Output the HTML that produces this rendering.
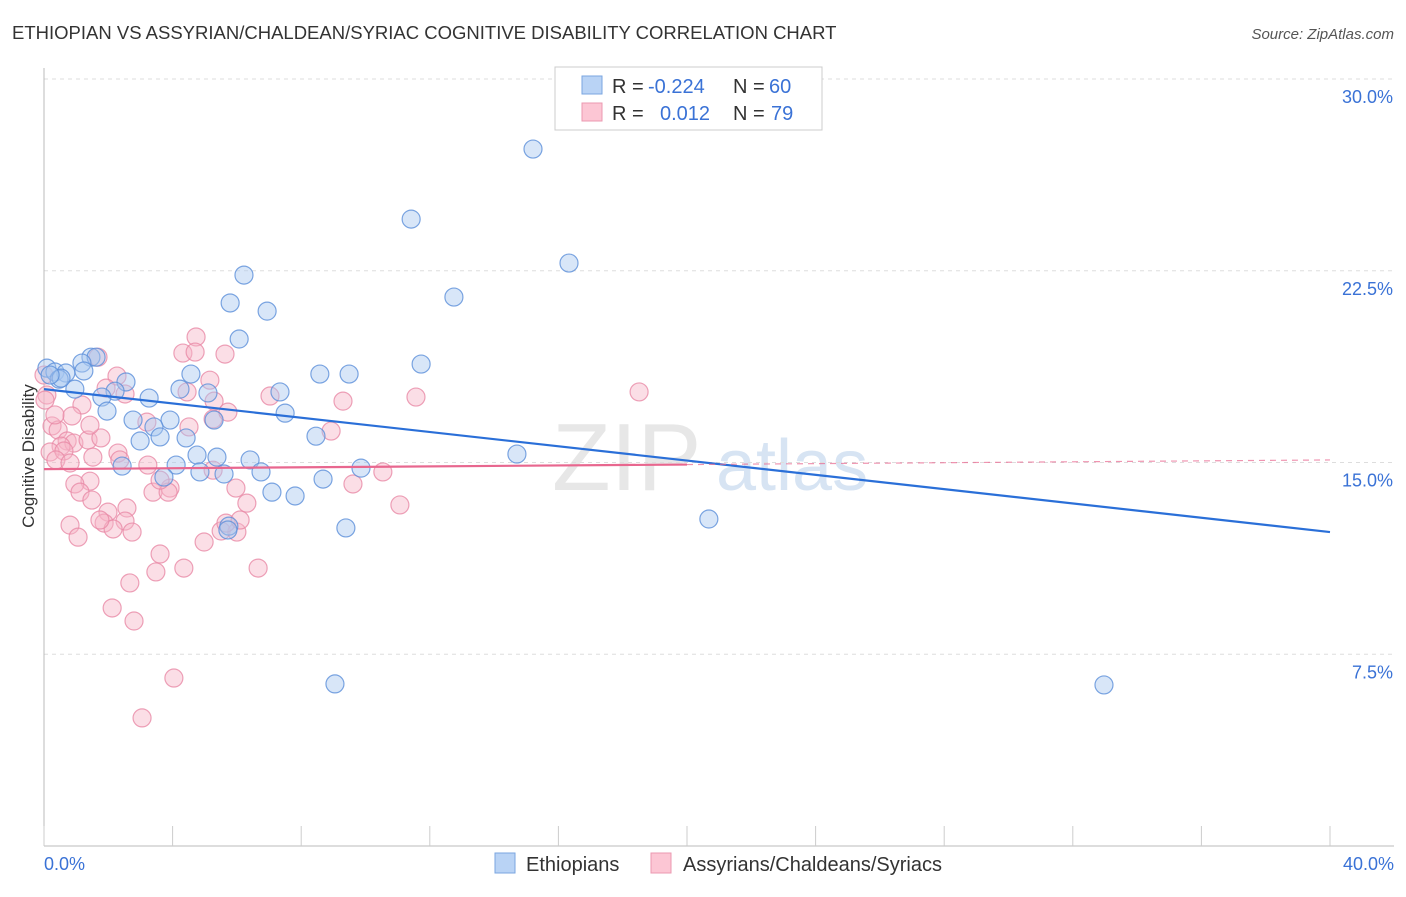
<!DOCTYPE html>
<html><head><meta charset="utf-8">
<style>
body{margin:0;background:#fff;font-family:"Liberation Sans",sans-serif;}
svg text{font-family:"Liberation Sans",sans-serif;}
</style></head>
<body>
<svg id="chart" width="1406" height="892" viewBox="0 0 1406 892" xmlns="http://www.w3.org/2000/svg">
<text x="12" y="39" font-size="18.5" fill="#333">ETHIOPIAN VS ASSYRIAN/CHALDEAN/SYRIAC COGNITIVE DISABILITY CORRELATION CHART</text>
<text x="1394" y="39" font-size="15" fill="#555" font-style="italic" text-anchor="end">Source: ZipAtlas.com</text>
<g>
<text x="552" y="490" font-size="96" fill="#ddd" font-family="Liberation Serif" opacity="0.7">ZIP</text>
<text x="716" y="490" font-size="72" fill="#c7d9ee" opacity="0.7">atlas</text>
</g>
<g id="grid"></g>
<g id="axes"></g>
<g id="marks"></g>
<text transform="translate(34,456) rotate(-90)" font-size="17" fill="#333" text-anchor="middle">Cognitive Disability</text>
<g>
<rect x="555" y="67" width="267" height="63" fill="#fff" stroke="#ccc"/>
<rect x="582" y="76" width="20" height="18" fill="#b9d3f5" stroke="#7aa6e0"/>
<text x="612" y="93" font-size="20" fill="#333">R =</text>
<text x="648" y="93" font-size="20" fill="#3a72d6">-0.224</text>
<text x="733" y="93" font-size="20" fill="#333">N =</text>
<text x="769" y="93" font-size="20" fill="#3a72d6">60</text>
<rect x="582" y="103" width="20" height="18" fill="#fcc6d4" stroke="#eb98b0"/>
<text x="612" y="120" font-size="20" fill="#333">R =</text>
<text x="660" y="120" font-size="20" fill="#3a72d6">0.012</text>
<text x="733" y="120" font-size="20" fill="#333">N =</text>
<text x="771" y="120" font-size="20" fill="#3a72d6">79</text>
</g>
<g>
<rect x="495" y="853" width="20" height="20" fill="#b9d3f5" stroke="#7aa6e0"/>
<text x="526" y="871" font-size="20" fill="#333">Ethiopians</text>
<rect x="651" y="853" width="20" height="20" fill="#fcc6d4" stroke="#eb98b0"/>
<text x="683" y="871" font-size="20" fill="#333">Assyrians/Chaldeans/Syriacs</text>
</g>
</svg>
<script>
const yTicks=[7.5,15,22.5,30];
const yTickLabels=["7.5%","15.0%","22.5%","30.0%"];
const xTicks=[0,4,8,12,16,20,24,28,32,36,40];
const xTickLabels=["0.0%","40.0%"];
const ethX=[15.21,11.42,16.33,6.22,12.75,5.79,6.94,6.07,1.46,1.62,1.18,11.73,0.09,0.34,1.24,0.68,0.47,4.57,8.58,9.49,2.55,4.23,0.96,2.21,5.10,7.34,3.27,1.80,1.96,7.50,2.77,3.92,5.29,3.42,2.99,3.61,4.42,8.46,14.71,4.76,5.38,6.41,4.11,2.43,4.85,5.60,6.75,9.86,8.68,3.73,7.09,7.81,20.68,9.39,5.75,9.05,32.97,0.53,0.19,5.72];
const ethY=[27.26,24.52,22.80,22.33,21.47,21.24,20.92,19.83,19.12,19.12,18.89,18.85,18.69,18.54,18.58,18.50,18.26,18.46,18.46,18.46,18.15,17.87,17.87,17.79,17.72,17.76,17.52,17.56,17.01,16.93,16.66,16.66,16.66,16.39,15.84,16.00,15.96,16.03,15.33,15.29,15.21,15.10,14.90,14.86,14.63,14.55,14.63,14.78,14.35,14.43,13.84,13.69,12.79,12.44,12.51,6.34,6.30,18.30,18.42,12.36];
const asyX=[4.73,4.32,5.63,1.68,2.27,1.93,2.52,5.29,4.45,7.03,9.30,11.57,18.51,0.09,1.18,3.20,5.26,4.51,8.93,0.25,0.44,0.72,0.93,1.37,1.77,0.53,0.19,0.62,2.30,1.52,0.37,0.81,3.23,5.26,10.54,1.43,0.96,1.12,1.49,3.92,3.39,5.97,9.61,6.31,11.07,1.99,2.58,0.81,1.87,2.52,1.06,2.15,2.74,4.98,5.51,6.00,5.66,3.61,2.67,4.35,3.48,6.66,2.12,2.80,4.04,3.05,0.0,0.03,0.87,1.43,2.36,3.86,4.70,5.16,5.72,3.61,1.74,0.34,6.10];
const asyY=[19.91,19.28,19.24,19.12,18.38,17.91,17.68,17.40,17.76,17.60,17.40,17.56,17.76,17.64,17.25,16.58,16.70,16.39,16.23,16.43,16.27,15.84,15.76,15.88,15.96,15.64,15.41,15.45,15.37,15.21,15.10,14.98,14.90,14.70,14.63,14.27,14.16,13.84,13.53,14.00,13.84,14.00,14.16,13.41,13.34,13.06,13.22,12.55,12.63,12.71,12.08,12.40,12.28,11.89,12.32,12.28,12.63,11.42,10.29,10.87,10.72,10.87,9.31,8.80,6.57,5.01,18.42,17.44,16.82,16.46,15.10,13.84,19.32,18.22,16.97,14.31,12.75,16.86,12.75];
const ethTrendX=[0,40];
const ethTrendY=[17.87,12.28];
const asyTrendX=[0,20,40];
const asyTrendY=[14.74,14.92,15.10];
const NS="http://www.w3.org/2000/svg";
const X0=44,X1=1330,Y0=846,YT=79;
function sx(v){return X0+(v/40)*(X1-X0);}
function sy(v){return Y0-(v/30)*(Y0-YT);}
function mk(tag,attrs,parent){const e=document.createElementNS(NS,tag);for(const k in attrs)e.setAttribute(k,attrs[k]);parent.appendChild(e);return e;}
const grid=document.getElementById('grid'),axes=document.getElementById('axes'),marks=document.getElementById('marks');
yTicks.forEach((t,i)=>{
 const l=mk('line',{x1:X0,x2:1394,y1:sy(t),y2:sy(t),stroke:'#ddd','stroke-dasharray':'4,4'},grid);
 
 
 const tx=mk('text',{x:1393,y:sy(t)+24,'font-size':18,fill:'#3a72d6','text-anchor':'end'},axes);
 tx.textContent=yTickLabels[i];
 
 
});
const ax=mk('line',{x1:X0,x2:X0,y1:68,y2:Y0,stroke:'#bbb'},axes);


const bx=mk('line',{x1:X0,x2:1394,y1:Y0,y2:Y0,stroke:'#bbb'},axes);


xTicks.forEach(t=>{
 const l=mk('line',{x1:sx(t),x2:sx(t),y1:826,y2:Y0,stroke:'#ccc'},axes);
 
 
});
const xl0=mk('text',{x:44,y:870,'font-size':18,fill:'#3a72d6'},axes);xl0.textContent=xTickLabels[0];


const xl1=mk('text',{x:1394,y:870,'font-size':18,fill:'#3a72d6','text-anchor':'end'},axes);xl1.textContent=xTickLabels[1];


function pts(xs,ys,fill,stroke,name){
 xs.forEach((x,i)=>{
  const c=mk('circle',{cx:sx(x),cy:sy(ys[i]),r:9,fill:fill,'fill-opacity':0.45,stroke:stroke,'stroke-opacity':0.8,'stroke-width':1.2},marks);
  
  
 });
}
pts(asyX,asyY,'#f7b5c8','#e88aa6','assyrian-point');
pts(ethX,ethY,'#a9c8f0','#5b8fd9','ethiopian-point');
const el=mk('line',{x1:sx(ethTrendX[0]),y1:sy(ethTrendY[0]),x2:sx(ethTrendX[1]),y2:sy(ethTrendY[1]),stroke:'#2a6fd8','stroke-width':2.2},marks);


const al=mk('line',{x1:sx(asyTrendX[0]),y1:sy(asyTrendY[0]),x2:sx(asyTrendX[1]),y2:sy(asyTrendY[1]),stroke:'#e8678f','stroke-width':2.2},marks);


const ad=mk('line',{x1:sx(asyTrendX[1]),y1:sy(asyTrendY[1]),x2:sx(asyTrendX[2]),y2:sy(asyTrendY[2]),stroke:'#e8678f','stroke-width':1.2,'stroke-dasharray':'6,5','stroke-opacity':0.7},marks);


</script>
</body></html>
